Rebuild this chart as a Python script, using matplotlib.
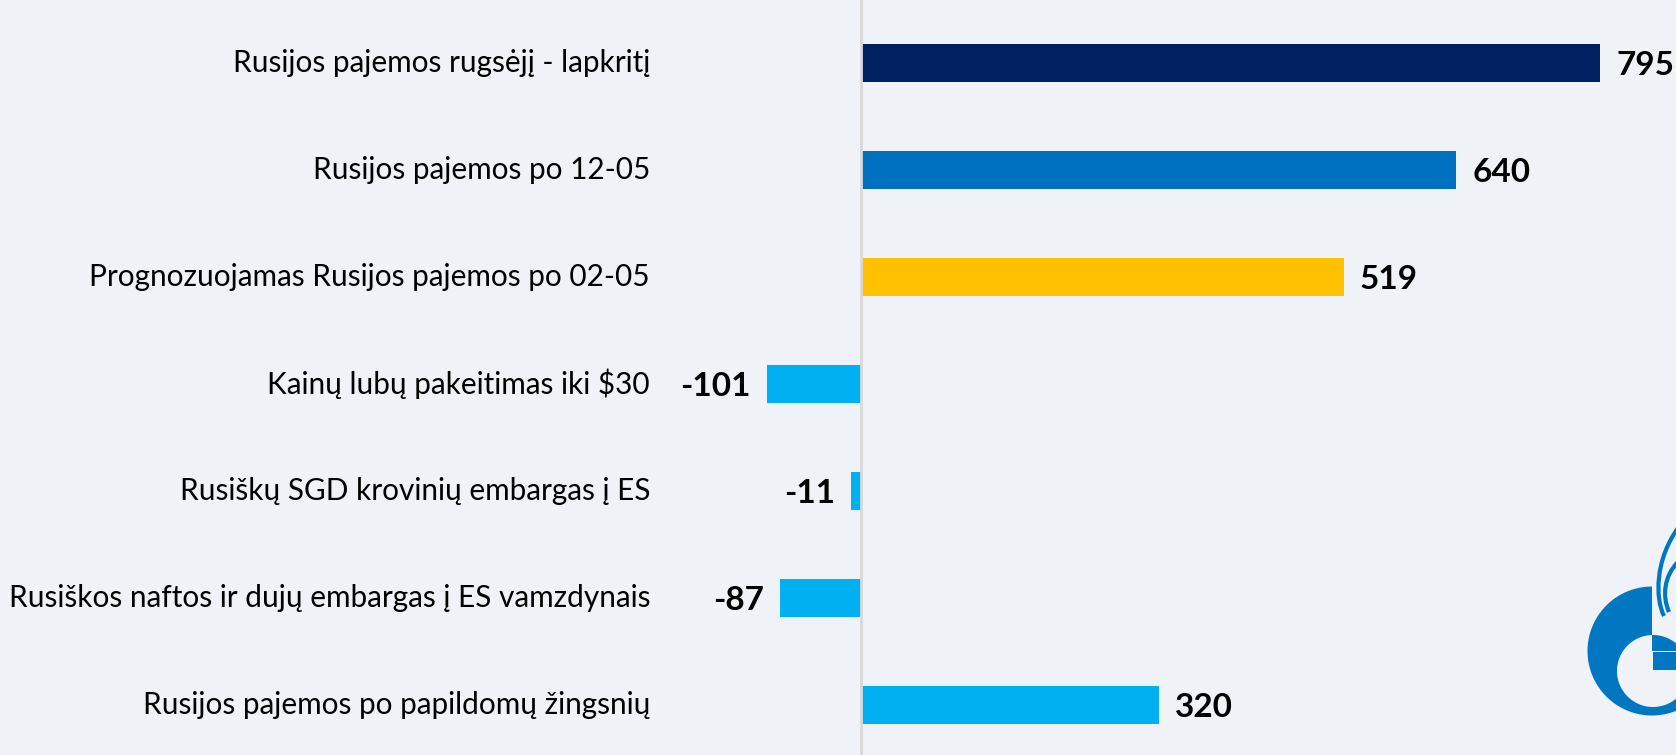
import numpy as np
import matplotlib.pyplot as plt
from matplotlib.path import Path
from matplotlib.patches import PathPatch, Rectangle

# --------------------------------------------------
# Data
# --------------------------------------------------

CATEGORIES = [
    "Rusijos pajemos rugsėjį - lapkritį",
    "Rusijos pajemos po 12-05",
    "Prognozuojamas Rusijos pajemos po 02-05",
    "Kainų lubų pakeitimas iki $30",
    "Rusiškų SGD krovinių embargas į ES",
    "Rusiškos naftos ir dujų embargas į ES vamzdynais",
    "Rusijos pajemos po papildomų žingsnių",
]
VALUES = [795, 640, 519, -101, -11, -87, 320]
COLORS = ["#002060", "#0070c0", "#ffc000", "#00b0f0", "#00b0f0", "#00b0f0", "#00b0f0"]

BG = "#eff3f7"
LOGO = "#0077c0"

# --------------------------------------------------
# Plot
# --------------------------------------------------

plt.rcParams["font.family"] = ["Lato", "DejaVu Sans"]

fig = plt.figure(figsize=(16.76, 7.55), dpi=100, facecolor=BG)
ax = fig.add_axes([0, 0, 1, 1], facecolor=BG)

pos = list(range(len(VALUES)))
ax.barh(pos, VALUES, height=0.36, color=COLORS, zorder=2)

# zero line
ax.axvline(0, color="#d9d9d9", linewidth=2, zorder=3)

px = 0.93  # pixels per unit
label_x = -211 / px
gap = 16 / px

for i, (cat, val) in enumerate(zip(CATEGORIES, VALUES)):
    ax.text(label_x, i, cat, ha="right", va="center", fontsize=21.4, color="#000000")
    if val >= 0:
        ax.text(val + gap, i + 0.02, f"{val}", ha="left", va="center",
                fontsize=24, fontweight="bold", color="#000000")
    else:
        ax.text(val - gap, i + 0.02, f"{val}", ha="right", va="center",
                fontsize=24, fontweight="bold", color="#000000")

ax.set_xlim(-861 / px, (1676 - 861) / px)
ax.set_ylim((755 - 63) / 107, -63 / 107)
ax.axis("off")

# --------------------------------------------------
# Logo fragment (bottom right, cut by the edge)
# --------------------------------------------------

lx = fig.add_axes([0, 0, 1, 1], facecolor="none")
lx.set_xlim(0, 1676)
lx.set_ylim(755, 0)
lx.axis("off")

cx, cy, r = 1652, 651, 64.5
th = np.linspace(np.radians(270), 0, 120)
outer = [(cx, cy)] + list(zip(cx + r * np.cos(th), cy + r * np.sin(th))) + [(cx, cy)]
hx, hy, hr = 1653, 671, 36
th2 = np.linspace(0, 2 * np.pi, 120)
inner = list(zip(hx + hr * np.cos(th2), hy + hr * np.sin(th2)))
verts = outer + inner
codes = ([Path.MOVETO] + [Path.LINETO] * (len(outer) - 2) + [Path.CLOSEPOLY]
         + [Path.MOVETO] + [Path.LINETO] * (len(inner) - 2) + [Path.CLOSEPOLY])
lx.add_patch(PathPatch(Path(verts, codes), facecolor=LOGO, edgecolor="none"))
lx.add_patch(Rectangle((1653, 652), 30, 18, facecolor=LOGO, edgecolor="none"))

flame1 = Path([(1664, 616), (1655, 598), (1655, 560), (1678, 528)],
              [Path.MOVETO, Path.CURVE4, Path.CURVE4, Path.CURVE4])
flame2 = Path([(1669, 612), (1662, 596), (1664, 576), (1678, 562)],
              [Path.MOVETO, Path.CURVE4, Path.CURVE4, Path.CURVE4])
lx.add_patch(PathPatch(flame1, facecolor="none", edgecolor=LOGO, linewidth=3))
lx.add_patch(PathPatch(flame2, facecolor="none", edgecolor=LOGO, linewidth=3))

fig.savefig("out.png", dpi=100, facecolor=BG)
